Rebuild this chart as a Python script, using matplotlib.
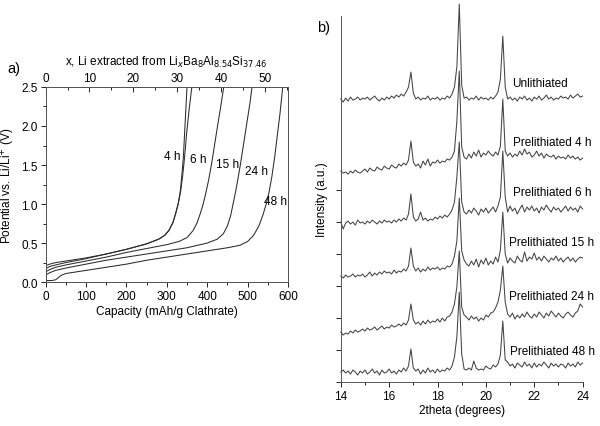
import matplotlib
matplotlib.use("Agg")
import matplotlib.pyplot as plt
import numpy as np
from matplotlib.ticker import MultipleLocator

plt.rcParams["font.family"] = ["Liberation Sans", "DejaVu Sans"]

# ---- panel a) : delithiation curves (capacity in mAh/g, potential in V)
cap_4h = [0, 10, 25, 50, 100, 150, 200, 250, 280, 295, 305, 315, 322, 328, 333, 337, 341, 344, 347, 350]
v_4h = [0.21, 0.23, 0.25, 0.27, 0.31, 0.36, 0.42, 0.49, 0.55, 0.60, 0.66, 0.76, 0.88, 1.00, 1.15, 1.35, 1.60, 1.90, 2.20, 2.50]

cap_6h = [0, 10, 25, 50, 100, 150, 200, 250, 280, 295, 305, 315, 322, 328, 334, 339, 344, 349, 355, 362]
v_6h = [0.17, 0.20, 0.22, 0.25, 0.30, 0.36, 0.42, 0.49, 0.55, 0.60, 0.66, 0.76, 0.88, 1.00, 1.15, 1.35, 1.60, 1.90, 2.20, 2.50]

cap_15h = [0, 10, 25, 50, 100, 150, 200, 250, 300, 330, 350, 365, 375, 383, 390, 397, 404, 411, 418, 425, 432, 441]
v_15h = [0.13, 0.16, 0.19, 0.22, 0.27, 0.32, 0.38, 0.43, 0.48, 0.52, 0.57, 0.66, 0.76, 0.88, 1.00, 1.15, 1.32, 1.52, 1.75, 1.98, 2.20, 2.50]

cap_24h = [0, 10, 25, 50, 100, 150, 200, 250, 300, 350, 400, 425, 440, 450, 458, 464, 470, 476, 482, 488, 494, 500, 506, 511]
v_24h = [0.09, 0.12, 0.15, 0.18, 0.23, 0.28, 0.32, 0.36, 0.40, 0.44, 0.50, 0.55, 0.62, 0.72, 0.85, 1.00, 1.15, 1.32, 1.50, 1.70, 1.90, 2.10, 2.30, 2.50]

cap_48h = [0, 15, 25, 32, 40, 50, 75, 100, 150, 200, 250, 300, 350, 400, 450, 480, 500, 515, 528, 538, 546, 553, 560, 567, 574, 580, 587]
v_48h = [0.02, 0.02, 0.03, 0.06, 0.09, 0.11, 0.13, 0.15, 0.19, 0.23, 0.28, 0.32, 0.36, 0.40, 0.44, 0.47, 0.52, 0.60, 0.72, 0.86, 1.00, 1.15, 1.35, 1.60, 1.90, 2.15, 2.50]

curve_labels = ["4 h", "6 h", "15 h", "24 h", "48 h"]
label_pos = [(313, 1.62), (377, 1.58), (451, 1.51), (523, 1.42), (570, 1.04)]

mah_per_li = 10.86  # capacity per extracted Li, from the top axis

# ---- panel b) : XRD patterns, 2theta 14..24 in 0.1 deg steps
two_theta = np.round(np.arange(14.0, 24.05, 0.1), 1)

xrd_unlith = [10, 7, 11, 8, 12, 9, 10, 12, 9, 11,
              10, 12, 9, 11, 13, 10, 8, 11, 9, 12,
              10, 13, 11, 14, 12, 15, 13, 17, 22, 37,
              16, 10, 12, 9, 11, 10, 13, 9, 11, 10,
              12, 9, 11, 10, 13, 11, 15, 22, 42, 105,
              24, 11, 12, 9, 11, 10, 13, 9, 12, 10,
              11, 9, 12, 10, 13, 17, 30, 73, 22, 10,
              12, 9, 11, 8, 12, 10, 13, 9, 11, 8,
              12, 10, 13, 9, 11, 14, 10, 12, 9, 11,
              10, 13, 11, 12, 10, 14, 11, 13, 15, 12, 13]
xrd_4h = [10, 8, 9, 7, 10, 8, 11, 9, 8, 10,
          12, 9, 13, 11, 10, 14, 12, 11, 15, 13,
          12, 16, 14, 13, 17, 15, 18, 16, 21, 40,
          19, 15, 17, 13, 20, 16, 22, 15, 19, 18,
          21, 18, 20, 19, 22, 21, 24, 30, 60, 110,
          34, 24, 22, 27, 23, 29, 25, 31, 24, 28,
          26, 30, 27, 25, 29, 26, 35, 82, 30, 25,
          28, 24, 27, 25, 30, 26, 32, 27, 29, 24,
          26, 30, 25, 28, 23, 27, 25, 24, 26, 22,
          25, 23, 24, 22, 26, 23, 25, 22, 24, 21, 23]
xrd_6h = [10, 3, 9, 11, 8, 10, 7, 12, 9, 10,
          8, 11, 9, 12, 10, 8, 11, 9, 12, 10,
          11, 9, 12, 10, 13, 11, 14, 12, 18, 38,
          15, 11, 13, 20, 12, 14, 11, 13, 12, 15,
          13, 16, 14, 17, 15, 18, 22, 30, 55, 90,
          30, 20, 18, 22, 19, 24, 21, 17, 23, 20,
          24, 19, 22, 25, 20, 26, 35, 81, 35, 20,
          26, 21, 24, 18, 23, 27, 20, 25, 22, 26,
          21, 24, 19, 25, 22, 27, 23, 20, 25, 22,
          24, 20, 23, 26, 21, 25, 22, 24, 20, 26, 23]
xrd_15h = [10, 8, 11, 9, 10, 12, 9, 11, 10, 12,
           9, 11, 14, 10, 13, 11, 14, 12, 15, 13,
           14, 12, 16, 13, 15, 14, 17, 15, 20, 38,
           20, 15, 18, 14, 17, 15, 19, 16, 18, 17,
           19, 16, 18, 17, 20, 19, 22, 30, 45, 88,
           35, 26, 22, 20, 25, 21, 27, 19, 26, 22,
           28, 21, 25, 22, 29, 24, 36, 74, 32, 23,
           28, 25, 23, 30, 26, 24, 34, 25, 29, 27,
           33, 26, 29, 25, 30, 27, 24, 28, 26, 30,
           25, 28, 24, 27, 29, 25, 28, 24, 27, 29, 28]
xrd_24h = [10, 7, 9, 8, 11, 9, 12, 10, 11, 13,
           11, 14, 12, 13, 15, 12, 14, 16, 13, 15,
           14, 17, 15, 16, 18, 16, 19, 17, 22, 38,
           22, 18, 20, 17, 21, 18, 22, 19, 21, 20,
           23, 20, 24, 21, 25, 26, 30, 38, 55, 91,
           35, 27, 25, 22, 26, 23, 25, 21, 24, 22,
           27, 25, 29, 30, 34, 40, 52, 76, 40, 28,
           25, 29, 23, 27, 24, 28, 25, 30, 26, 24,
           28, 25, 30, 27, 24, 29, 26, 31, 28, 25,
           29, 26, 24, 28, 30, 27, 25, 29, 31, 38, 35]
xrd_48h = [10, 12, 9, 11, 8, 12, 10, 7, 11, 9,
           12, 8, 10, 13, 9, 11, 7, 12, 9, 10,
           13, 9, 11, 8, 12, 10, 14, 11, 16, 33,
           14, 11, 13, 8, 12, 9, 14, 10, 12, 9,
           13, 10, 12, 11, 14, 12, 16, 25, 45, 90,
           28, 13, 12, 14, 12, 21, 14, 12, 13, 12,
           16, 14, 13, 17, 15, 18, 27, 61, 22, 20,
           16, 18, 14, 19, 17, 15, 20, 16, 18, 14,
           19, 15, 18, 16, 20, 17, 14, 19, 16, 18,
           15, 18, 17, 14, 19, 16, 18, 15, 20, 17, 19]

xrd_labels = ["Unlithiated", "Prelithiated 4 h", "Prelithiated 6 h",
              "Prelithiated 15 h", "Prelithiated 24 h", "Prelithiated 48 h"]

line_col = "#2b2b2b"
fs_tick = 8.5
fs_lab = 8.5
fig = plt.figure(figsize=(6.0, 4.27), dpi=100)

# ---------------- panel a
ax = fig.add_axes([0.076, 0.337, 0.404, 0.457])
for c, v in [(cap_4h, v_4h), (cap_6h, v_6h), (cap_15h, v_15h), (cap_24h, v_24h), (cap_48h, v_48h)]:
    ax.plot(c, v, color=line_col, lw=0.75)
for lab, (cx, cy) in zip(curve_labels, label_pos):
    ax.text(cx, cy, lab, fontsize=8.5, ha="center", va="center")

ax.set_xlim(0, 600)
ax.set_ylim(0, 2.5)
ax.xaxis.set_major_locator(MultipleLocator(100))
ax.xaxis.set_minor_locator(MultipleLocator(50))
ax.yaxis.set_major_locator(MultipleLocator(0.5))
ax.yaxis.set_minor_locator(MultipleLocator(0.25))
ax.yaxis.set_major_formatter(plt.FormatStrFormatter("%.1f"))
ax.tick_params(which="both", direction="out", labelsize=fs_tick, width=0.6, pad=2)
ax.tick_params(which="major", length=3.5)
ax.tick_params(which="minor", length=2)
ax.set_xlabel("Capacity (mAh/g Clathrate)", fontsize=fs_lab, labelpad=2)
ax.set_ylabel("Potential vs. Li/Li$^{+}$ (V)", fontsize=fs_lab, labelpad=3)
for s in ax.spines.values():
    s.set_linewidth(0.7)
    s.set_color("#555555")

top = ax.twiny()
top.set_xlim(0, 600 / mah_per_li)
top.xaxis.set_major_locator(MultipleLocator(10))
top.xaxis.set_minor_locator(MultipleLocator(5))
top.tick_params(which="both", direction="in", labelsize=fs_tick, width=0.6, pad=2)
top.tick_params(which="major", length=3.5)
top.tick_params(which="minor", length=2)
top.set_xlabel("x, Li extracted from Li$_x$Ba$_8$Al$_{8.54}$Si$_{37.46}$", fontsize=fs_lab, labelpad=5)
for s in top.spines.values():
    s.set_linewidth(0.7)
    s.set_color("#555555")

fig.text(0.012, 0.83, "a)", fontsize=10.5)

# ---------------- panel b
bx = fig.add_axes([0.568, 0.103, 0.403, 0.857])
offsets = [273, 201, 150, 96, 40, 0]
traces = [xrd_unlith, xrd_4h, xrd_6h, xrd_15h, xrd_24h, xrd_48h]
for tr, off in zip(traces, offsets):
    bx.plot(two_theta, np.array(tr) + off, color="#444444", lw=0.75, clip_on=False)

lab_xy = [(22.24, 299), (22.73, 240), (22.73, 190), (22.73, 140), (22.73, 86), (22.77, 31)]
for lab, (tx, ty) in zip(xrd_labels, lab_xy):
    bx.text(tx, ty, lab, fontsize=8.5, ha="center", va="center")

bx.set_xlim(14, 24)
bx.set_ylim(0, 366)
bx.set_xticks([14, 16, 18, 20, 22, 24])
bx.xaxis.set_minor_locator(MultipleLocator(1))
bx.set_yticks([0, 32, 64, 96, 128, 160, 192])
bx.set_yticklabels([])
bx.spines["top"].set_visible(False)
bx.spines["right"].set_visible(False)
for s in ("left", "bottom"):
    bx.spines[s].set_linewidth(0.7)
    bx.spines[s].set_color("#555555")
bx.tick_params(which="both", direction="out", labelsize=fs_tick, width=0.6, pad=2)
bx.tick_params(which="major", length=3.5)
bx.tick_params(which="minor", length=2)
bx.set_xlabel("2theta (degrees)", fontsize=fs_lab, labelpad=2)
bx.set_ylabel("Intensity (a.u.)", fontsize=fs_lab, labelpad=4)

fig.text(0.528, 0.925, "b)", fontsize=10.5)

fig.savefig("out.png", dpi=100)
